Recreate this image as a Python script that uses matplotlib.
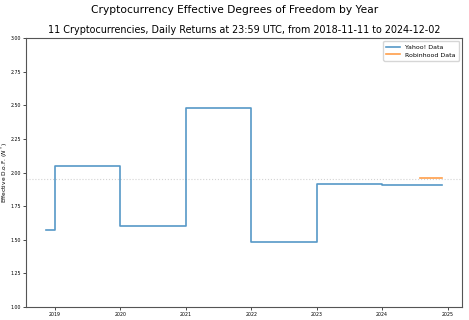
import pandas as pd
import matplotlib
matplotlib.use("Agg")
import matplotlib.pyplot as plt

# ==========================================================
# Effective degrees of freedom, per calendar year
# ==========================================================

yahoo_dates = ["2018-11-11", "2019-01-01", "2020-01-01", "2021-01-01",
               "2022-01-01", "2023-01-01", "2024-01-01", "2024-12-02"]
yahoo_dof = [1.575, 2.045, 1.600, 2.478, 1.480, 1.916, 1.908, 1.908]

robinhood_dates = ["2024-08-01", "2024-12-02"]
robinhood_dof = [1.958, 1.958]

reference_level = 1.955

yahoo_dates = pd.to_datetime(yahoo_dates)
robinhood_dates = pd.to_datetime(robinhood_dates)

fig = plt.figure(figsize=(4.69, 3.2), dpi=100)
ax = fig.add_axes([0.0554, 0.0406, 0.9296, 0.8404])

ax.axhline(reference_level, color="lightgrey", linestyle=":", linewidth=0.8)

ax.plot(yahoo_dates, yahoo_dof, drawstyle="steps-post",
        color="tab:blue", alpha=0.75, linewidth=1.2, label="Yahoo! Data")
ax.plot(robinhood_dates, robinhood_dof, drawstyle="steps-post",
        color="tab:orange", alpha=0.75, linewidth=1.2, label="Robinhood Data")

ax.set_ylim(1.0, 3.0)
ax.set_yticks([1.00, 1.25, 1.50, 1.75, 2.00, 2.25, 2.50, 2.75, 3.00])
ax.set_yticklabels([f"{v:.2f}" for v in ax.get_yticks()])

ax.set_ylabel("Effective D.o.F. ($N^*$)", fontsize=4.2, va="center")
ax.yaxis.set_label_coords(-0.048, 0.5)
ax.tick_params(labelsize=3.4, length=2, width=0.5, pad=1.5)
for s in ax.spines.values():
    s.set_linewidth(0.8)
    s.set_color("#555555")

ax.legend(loc="upper right", fontsize=4.5, frameon=True, handlelength=2.2,
          borderpad=0.5, labelspacing=0.4)

ax.set_title("11 Cryptocurrencies, Daily Returns at 23:59 UTC, from 2018-11-11 to 2024-12-02",
             fontsize=6.9, pad=4)
fig.suptitle("Cryptocurrency Effective Degrees of Freedom by Year", fontsize=7.7, y=0.985)

fig.savefig("out.png", dpi=100)
